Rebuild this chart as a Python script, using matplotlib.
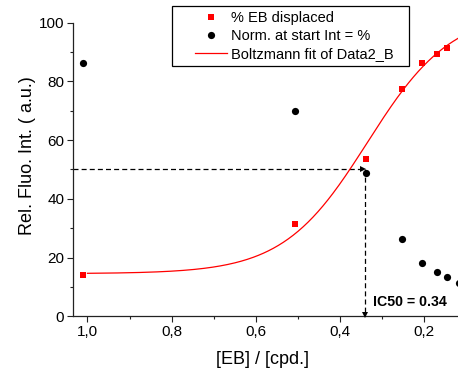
import numpy as np
import matplotlib
matplotlib.use("Agg")
import matplotlib.pyplot as plt
from matplotlib.patches import Rectangle
from matplotlib.ticker import MultipleLocator, FuncFormatter

plt.rcParams['font.family'] = ['Liberation Sans', 'DejaVu Sans']

# dilution series, [EB]/[cpd.]
conc = [1.01, 0.506, 0.338, 0.254, 0.205, 0.171, 0.147]
eb_displaced = [14.1, 31.4, 53.6, 77.5, 86.2, 89.3, 91.3]

conc_norm = [1.01, 0.506, 0.338, 0.254, 0.205, 0.171, 0.147, 0.118]
norm_start = [86.4, 69.9, 48.8, 26.3, 18.2, 15.2, 13.3, 11.2]

# Boltzmann fit parameters (A1, A2, x0, dx)
A1, A2, X0, DX = 104.0, 14.5, 0.335, 0.1
fit_range = (1.0, 0.12)

ic50 = 0.34
half = 50

W, H = 458, 374
fig = plt.figure(figsize=(W / 100, H / 100), dpi=100)
ax = fig.add_axes([72.5 / W, 1 - 316.2 / H, 385.5 / W, 293.5 / H])

xf = np.linspace(fit_range[0], fit_range[1], 300)
yf = A2 + (A1 - A2) / (1 + np.exp((xf - X0) / DX))

ax.plot(conc, eb_displaced, 's', color='#ff0000', ms=4.8, mew=0,
        label='% EB displaced', zorder=4)
ax.plot(conc_norm, norm_start, 'o', color='black', ms=5.2, mew=0,
        label='Norm. at start Int = %', zorder=4)
ax.plot(xf, yf, '-', color='#ff0000', lw=0.9, label='Boltzmann fit of Data2_B', zorder=3)

# IC50 guide lines
ax.plot([1.0356, ic50 + 0.008], [half, half], color='black', lw=0.9, dashes=(4, 2.5))
ax.plot([ic50 + 0.006], [half], '>', color='black', ms=4, mew=0)
ax.plot([ic50, ic50], [half, 1.5], color='black', lw=0.9, dashes=(4, 2.5))
ax.plot([ic50], [0.5], 'v', color='black', ms=4.5, mew=0, clip_on=False, zorder=5)
ax.text(0.323, 5, 'IC50 = %.2f' % ic50, fontsize=10.2, fontweight='bold',
        ha='left', va='center')

ax.set_xlim(1.0356, 0.12)
ax.set_ylim(0, 100)

for s in ['top', 'right']:
    ax.spines[s].set_visible(False)
for s in ['left', 'bottom']:
    ax.spines[s].set_linewidth(0.9)
    ax.spines[s].set_color('#222222')

ax.xaxis.set_major_locator(MultipleLocator(0.2))
ax.xaxis.set_minor_locator(MultipleLocator(0.1))
ax.yaxis.set_major_locator(MultipleLocator(20))
ax.yaxis.set_minor_locator(MultipleLocator(10))
ax.xaxis.set_major_formatter(FuncFormatter(lambda v, p: ('%.1f' % v).replace('.', ',')))
ax.tick_params(which='major', length=4.5, width=0.8, labelsize=11, pad=1.5, color='#222222')
ax.tick_params(which='minor', length=2.5, width=0.8, color='#222222')

ax.set_xlabel('[EB] / [cpd.]', fontsize=13)
ax.set_ylabel('Rel. Fluo. Int. ( a.u.)', fontsize=13)
ax.xaxis.set_label_coords(0.494, -0.12)
ax.yaxis.set_label_coords(-0.094, 0.546)

# legend box drawn separately so the padding can be set freely
fig.patches.append(Rectangle((172 / W, 1 - 66 / H), 237 / W, 60 / H,
                             transform=fig.transFigure, fill=False,
                             edgecolor='black', lw=0.9))
ax.legend(loc='upper left', bbox_to_anchor=(195 / W, 1 - 11 / H),
          bbox_transform=fig.transFigure, borderaxespad=0, borderpad=0,
          fontsize=10.5, frameon=False, handlelength=2.2, handletextpad=0.3,
          labelspacing=0.28, numpoints=1)

fig.savefig('out.png', dpi=100)
